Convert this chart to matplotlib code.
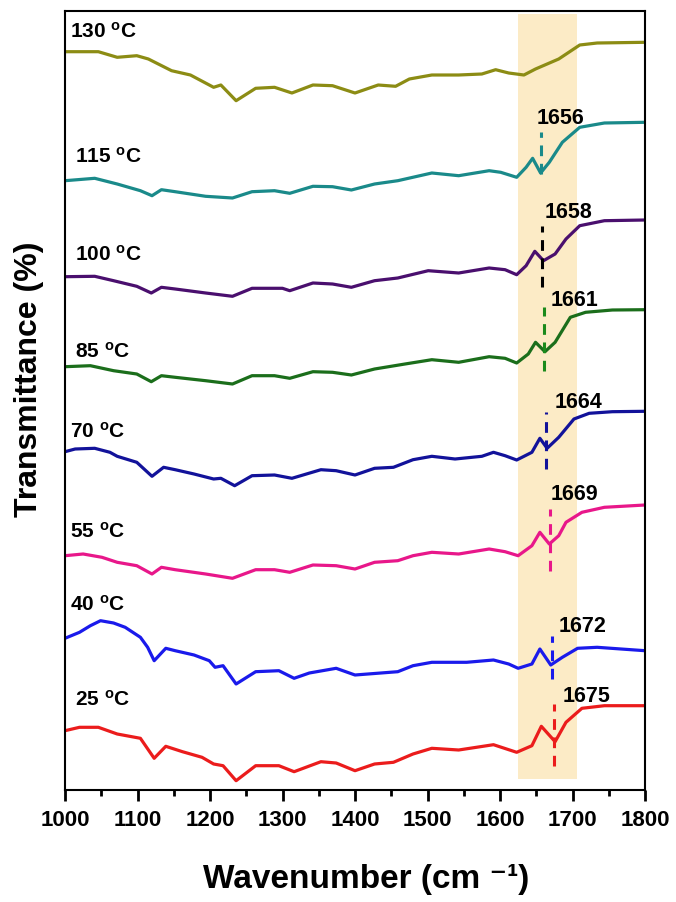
import matplotlib
matplotlib.use("Agg")
import matplotlib.pyplot as plt
from matplotlib.ticker import MultipleLocator

plt.rcParams['font.family'] = ['Liberation Sans', 'DejaVu Sans']
plt.rcParams['font.weight'] = 'bold'
plt.rcParams['mathtext.fontset'] = 'custom'
plt.rcParams['mathtext.rm'] = 'Liberation Sans:bold'
plt.rcParams['mathtext.bf'] = 'Liberation Sans:bold'
plt.rcParams['mathtext.default'] = 'bf'

# ---- data (wavenumber, offset transmittance in arbitrary units) ----
temps = ["130", "115", "100", "85", "70", "55", "40", "25"]
colors = ["#8c8c14", "#1a8a8a", "#4a0f6e", "#1b6e1b", "#12129a", "#e8178a", "#1a1aeb", "#eb1c1c"]

w130 = [1000,1046,1072,1099,1115,1147,1173,1205,1215,1236,1263,1289,1313,1342,1369,1400,1432,1456,1475,1506,1543,1575,1594,1612,1633,1649,1681,1710,1734,1800]
t130 = [747.3,747.3,741.7,743.3,740,728.3,724,711.7,714,698.3,710.7,711.7,706,714,713.3,706,714,712.7,720,724,724,725,729.3,726,724,730,740,754,756,756.7]

w115 = [1000,1041,1072,1104,1120,1133,1152,1194,1231,1258,1289,1310,1342,1369,1395,1427,1459,1506,1543,1585,1601,1623,1636,1645,1656,1668,1686,1710,1744,1800]
t115 = [618.3,620.7,615,608.3,603.3,609.3,607.3,602.7,601,607.3,608.3,605.7,612.7,612.3,609,615,618.3,626,623.3,628.3,626.7,621.7,631.7,640.7,626,636.7,656.7,671.7,676,676.7]

w100 = [1000,1041,1067,1099,1119,1133,1152,1194,1231,1258,1300,1310,1342,1369,1395,1427,1459,1501,1543,1585,1607,1623,1636,1648,1660,1676,1691,1710,1744,1800]
t100 = [522.3,522.7,518.3,512.7,506,511.7,510,506,502.7,510.7,510.7,508.3,516,515,511.7,518.3,521,528.3,526,531,529.3,524.3,533.3,547.7,538.3,545,560,573.3,578.3,579]

w85 = [1000,1035,1067,1099,1119,1133,1152,1194,1231,1258,1289,1310,1342,1369,1395,1427,1469,1506,1543,1585,1607,1623,1639,1649,1662,1676,1697,1718,1755,1800]
t85 = [432.3,433.3,428.3,425,417.3,423.3,421.7,418.3,415,423.3,423.3,420.7,427.3,426.7,424,430,435,439.3,436.7,442.3,440.7,436,445,456.7,447.3,456.7,481.7,486.7,489,489.3]

w70 = [1000,1014,1041,1062,1072,1099,1120,1136,1152,1178,1205,1215,1234,1258,1289,1313,1353,1374,1400,1427,1453,1480,1506,1538,1575,1591,1607,1623,1644,1655,1665,1681,1702,1723,1755,1800]
t70 = [347.3,350,350.7,346.7,342.7,336.7,322.7,331.7,329.3,325,320,320.7,313.3,323.3,324,320.7,329.3,328.3,324,330.7,331.7,339.3,342.7,340,342.7,346.7,343.3,339,346.7,360.7,350.7,361.7,380,385.7,387.3,387.7]

w55 = [1000,1025,1051,1072,1099,1120,1133,1152,1194,1231,1263,1289,1310,1342,1374,1400,1427,1459,1480,1506,1543,1585,1607,1625,1644,1655,1668,1681,1691,1713,1744,1800]
t55 = [243.3,245,241.7,236.7,233.3,225,231.7,229.3,225,220.7,229.3,229.3,226.7,234,233.3,230,236.7,238.3,243.3,246.7,245,250,247.3,243.3,253.3,266.7,255,263.3,276.7,286.7,291.7,294]

w40 = [1000,1020,1035,1049,1067,1083,1104,1114,1123,1139,1152,1178,1199,1207,1218,1236,1263,1295,1316,1337,1374,1400,1459,1480,1506,1554,1591,1612,1625,1644,1655,1670,1686,1707,1734,1800]
t40 = [160.7,166.7,173.3,178.3,176,171.7,161.7,151.7,138.3,150.7,148.3,144,138.3,131.7,133.3,115,127.3,128.3,120.7,126,130.7,124,127.3,133.3,136.7,136.7,139,135,130.7,135,150,134,141.7,150.7,151.7,148.3]

w25 = [1000,1020,1046,1072,1104,1123,1139,1162,1189,1205,1218,1236,1263,1295,1316,1353,1374,1400,1427,1453,1480,1506,1543,1591,1623,1644,1657,1676,1691,1713,1744,1800]
t25 = [68.3,71.7,71.7,65,60.7,40.7,52.7,47.3,41.7,35,33.3,18.3,33.3,33.3,27.3,37.3,36,28.3,35,36.7,45,50.7,49,54.3,46.7,53.3,72.7,57.3,76.7,90.7,93.3,93.3]

waves = [w130, w115, w100, w85, w70, w55, w40, w25]
trans = [t130, t115, t100, t85, t70, t55, t40, t25]

# temperature label anchors (wavenumber, T)
temp_lab_x = [1007, 1014, 1014, 1014, 1007, 1007, 1007, 1014]
temp_lab_y = [768, 643, 545, 448, 368, 268, 195, 100]

# peak markers (from 115 down to 25)
peak_pos = [1656, 1658, 1661, 1664, 1669, 1672, 1675]
peak_colors = ["#1a8a8a", "#000000", "#1b8a1b", "#12129a", "#e8178a", "#1a1aeb", "#eb1c1c"]
peak_lo = [625, 512, 428, 330, 228, 120, 33]
peak_hi = [667, 573, 492, 387, 290, 163, 95]
peak_lab_x = [1650, 1662, 1670, 1676, 1670, 1681, 1686]
peak_lab_y = [682, 587, 500, 397, 305, 173, 103]

band_lo, band_hi = 1625, 1706
band_ylo, band_yhi = 20, 785

# ---- figure ----
fig = plt.figure(figsize=(6.76, 9.03), dpi=100)
ax = fig.add_axes([65/676, 1-791/903, 580/676, 779/903])

ax.fill_between([band_lo, band_hi], band_ylo, band_yhi, color="#fcebc6", lw=0, zorder=0)

for w, t, c in zip(waves, trans, colors):
    ax.plot(w, t, color=c, lw=2.3, zorder=2, solid_joinstyle='round')

for x, y, lab in zip(temp_lab_x, temp_lab_y, temps):
    ax.text(x, y, lab + r" $^{\mathbf{o}}$C", fontsize=15, fontweight='bold',
            ha='left', va='center', color='black')

for p, c, lo, hi, lx, ly in zip(peak_pos, peak_colors, peak_lo, peak_hi, peak_lab_x, peak_lab_y):
    ax.plot([p, p], [lo, hi], color=c, lw=2.2, ls=(0, (3.5, 2.5)), zorder=3)
    ax.text(lx, ly, str(p), fontsize=15.5, fontweight='bold', ha='left', va='center', color='black')

ax.set_xlim(1000, 1800)
ax.set_ylim(9, 788)
ax.xaxis.set_major_locator(MultipleLocator(100))
ax.xaxis.set_minor_locator(MultipleLocator(50))
ax.set_yticks([])
ax.tick_params(axis='x', which='major', direction='out', length=8, width=2, labelsize=16, pad=6)
ax.tick_params(axis='x', which='minor', direction='out', length=4.5, width=2)
ax.tick_params(top=False, right=False)
for lbl in ax.get_xticklabels():
    lbl.set_fontweight('bold')
for s in ax.spines.values():
    s.set_linewidth(1.5)

ax.set_xlabel("Wavenumber (cm \u207b\u00b9)", fontsize=24, fontweight='bold')
ax.xaxis.set_label_coords(0.519, -0.094)
ax.set_ylabel("Transmittance (%)", fontsize=23, fontweight='bold')
ax.yaxis.set_label_coords(-0.036, 0.528)

fig.savefig("out.png", dpi=100)
